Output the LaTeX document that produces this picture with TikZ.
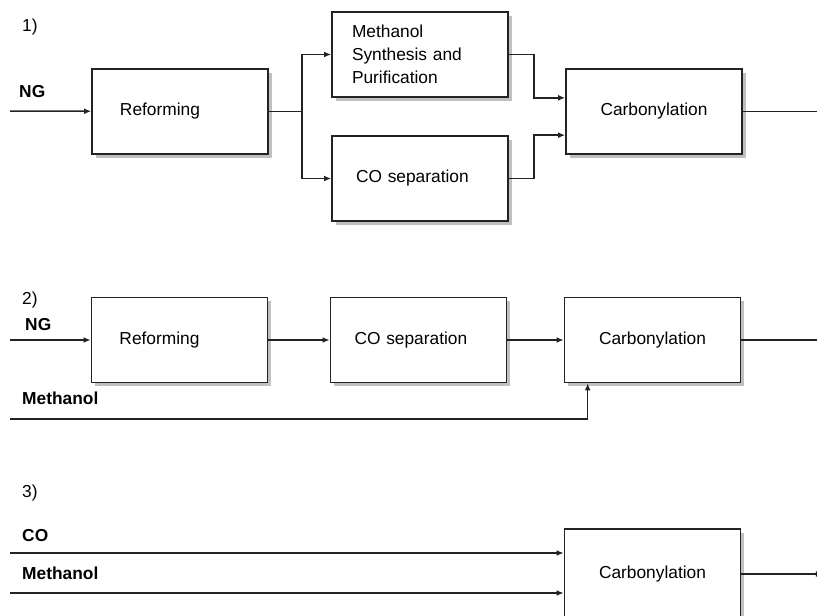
\documentclass[tikz,border=0pt]{standalone}
\usepackage{fontspec}
\setmainfont{Liberation Sans}
\usetikzlibrary{arrows.meta,shadows}
\definecolor{linegray}{RGB}{35,35,35}
\definecolor{shadowgray}{RGB}{192,192,192}
\tikzset{
  blk/.style={draw=linegray, line width=0.05cm, fill=white,
    minimum width=5.28cm, minimum height=2.55cm,
    drop shadow={shadow xshift=0.11cm, shadow yshift=-0.11cm, fill=shadowgray, opacity=1},
    align=left, text width=3.6cm, inner xsep=0.84cm},
  midblk/.style={blk, align=center, text width=4.68cm, inner xsep=0.3cm},
  flow/.style={draw=linegray, line width=0.045cm, -{Latex[length=6pt,width=5pt]}},
  pipe/.style={draw=linegray, line width=0.045cm},
  lbl/.style={anchor=west, inner sep=0pt, font=\bfseries},
  tag/.style={anchor=west, inner sep=0pt}
}
\begin{document}
\begin{tikzpicture}[x=0.03cm, y=-0.03cm]
            \useasboundingbox (0,0) rectangle (817,615);
            {\fontsize{14.8}{19.6}\selectfont

            % Route 1: reforming split to methanol and CO
            \node[tag] (tag1) at (22,27) {1)};
            \node[lbl] (ng1l) at (19,92) {NG};
            \coordinate (ng1) at (10,111);
            \node[blk] (ref1) at (180,111.5) {Reforming};
            \node[blk, text width=4.08cm, inner xsep=0.6cm] (meth1) at (420,54.5) {Methanol\\Synthesis and\\Purification};
            \node[blk, text width=3.84cm, inner xsep=0.72cm] (cos1) at (420,178.5) {CO separation};
            \node[midblk] (carb1) at (654,111.5) {Carbonylation};
            \coordinate (out1) at (817,111.5);

            \draw[flow] (ng1) -- (ref1);
            \draw[pipe] (ref1.east) -- ++(33,0) coordinate (br1);
            \draw[flow] (br1) |- (meth1.west);
            \draw[flow] (br1) |- (cos1.west);
            \draw[flow] (meth1.east) -- ++(25,0) |- (carb1.west |- meth1.south);
            \draw[flow] (cos1.east) -- ++(25,0) |- (carb1.west |- cos1.north);
            \draw[pipe] (carb1) -- (out1);

            % Route 2: reforming, CO separation, methanol fed in
            \node[tag] (tag2) at (22,300) {2)};
            \node[lbl] (ng2l) at (25,325) {NG};
            \node[lbl] (me2l) at (22,398) {Methanol};
            \coordinate (ng2) at (10,340);
            \coordinate (me2) at (10,419);
            \node[blk] (ref2) at (179.5,340) {Reforming};
            \node[blk, text width=3.84cm, inner xsep=0.72cm] (cos2) at (418.5,340) {CO separation};
            \node[midblk] (carb2) at (652.5,340) {Carbonylation};
            \coordinate (out2) at (817,340);

            \draw[flow] (ng2) -- (ref2);
            \draw[flow] (ref2) -- (cos2);
            \draw[flow] (cos2) -- (carb2);
            \draw[flow] (me2) -| ([xshift=0.72cm]carb2.south west);
            \draw[pipe] (carb2) -- (out2);

            % Route 3: CO and methanol bought in
            \node[tag] (tag3) at (22,493) {3)};
            \node[lbl] (co3l) at (22,536) {CO};
            \node[lbl] (me3l) at (22,573) {Methanol};
            \coordinate (co3) at (10,553);
            \coordinate (me3) at (10,593);
            \node[midblk, minimum height=2.7cm] (carb3) at (652.5,574) {Carbonylation};
            \coordinate (out3) at (823,574);

            \draw[flow] (co3) -- (co3 -| carb3.west);
            \draw[flow] (me3) -- (me3 -| carb3.west);
            \draw[flow] (carb3) -- (out3);
            }
\end{tikzpicture}
\end{document}
